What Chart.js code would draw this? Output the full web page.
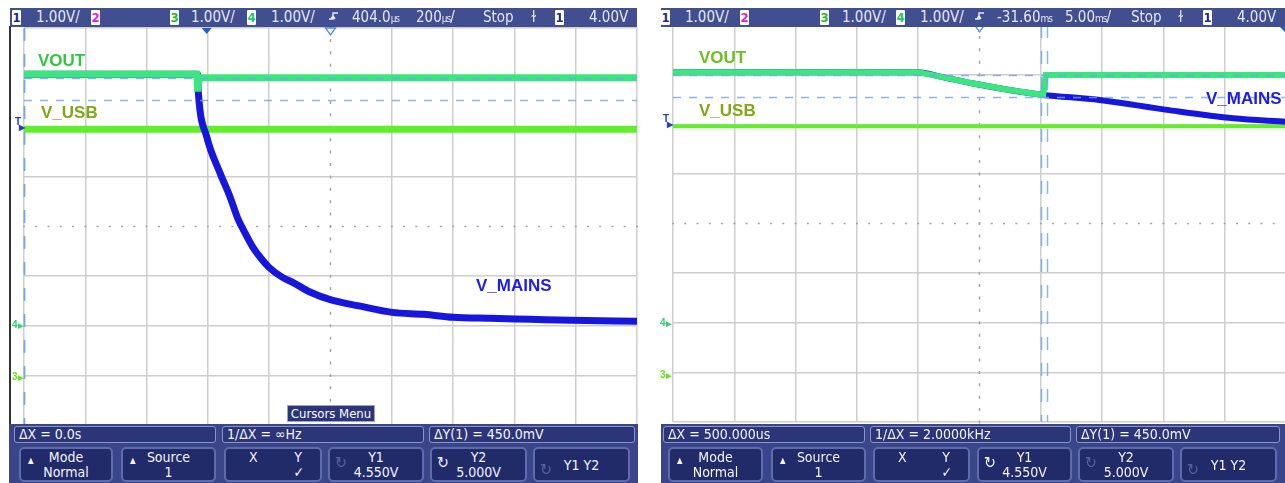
<!DOCTYPE html>
<html>
<head>
<meta charset="utf-8">
<script src="https://cdn.jsdelivr.net/npm/chart.js@4.4.1/dist/chart.umd.min.js"></script>
<style>
  html, body { margin: 0; padding: 0; background: #fff; }
  #page { position: relative; width: 1285px; height: 483px; overflow: hidden; background: #fff;
          font-family: "Liberation Sans Narrow", "DejaVu Sans Condensed", "Liberation Sans", sans-serif; }
  canvas { position: absolute; }
  .bar { position: absolute; top: 8px; height: 19px; background: #414e8f; }
  .ht { position: absolute; top: 8px; line-height: 19px; font-size: 15px; color: #e4e8f6; white-space: nowrap; }
  .ht small { font-size: 10px; letter-spacing: -1px; }
  .cb { position: absolute; top: 10px; width: 9px; height: 15px; line-height: 15px; background: #fff; font-size: 13px;
        font-weight: bold; text-align: center; border-radius: 1px; }
  .bbg { position: absolute; top: 424px; height: 59px; background: #3a4689; }
  .r1 { position: absolute; top: 426px; height: 17px; background: #2b3577; border: 1px solid #8a94c8; border-radius: 3px;
        box-sizing: border-box; color: #f2f4ff; font-size: 14px; line-height: 15px; padding-left: 4px; white-space: nowrap; }
  .btn { position: absolute; top: 447px; height: 35px; background: #222b6a; border: 2px solid #5f6cab; border-radius: 5px;
         box-sizing: border-box; color: #f2f4ff; font-size: 14px; line-height: 15px; text-align: center; padding-top: 1px; }
  .btn i { position: absolute; font-style: normal; }
  .up { left: 7px; top: 4px; font-size: 8px; }
  .rot { left: 5px; top: 6px; font-size: 16px; }
  .dim { color: #56619e; }
  .lbl { position: absolute; font-family: "Liberation Sans", Arial, sans-serif; font-weight: bold; font-size: 17px;
         line-height: 17px; white-space: nowrap; }
  .mk { position: absolute; font-family: "Liberation Sans", sans-serif; font-weight: bold; font-size: 10px; line-height: 10px; }
</style>
</head>
<body>
<div id="page">
  <!-- left capture: 200us/div -->
  <div style="position:absolute;left:9px;top:26px;width:2px;height:399px;background:#333"></div>
  <canvas id="scopeLeft" width="617" height="401" style="left:22px;top:26px"></canvas>

  <div class="bar" style="left:10px;width:627px"></div>
  <span class="cb" style="left:12px;color:#1c2a8a">1</span>
  <span class="ht" style="left:36px">1.00V/</span>
  <span class="cb" style="left:91px;color:#e020d8">2</span>
  <span class="cb" style="left:170px;color:#22c022">3</span>
  <span class="ht" style="left:191px">1.00V/</span>
  <span class="cb" style="left:247px;color:#20c868">4</span>
  <span class="ht" style="left:271px">1.00V/</span>
  <svg style="position:absolute;left:328px;top:10px" width="12" height="15"><path d="M1 9 H5 V3 H10 M5 6 L3 9 M5 6 L7 9" stroke="#e4e8f6" stroke-width="1.5" fill="none"/></svg>
  <span class="ht" style="left:352px">404.0<small>µs</small></span>
  <span class="ht" style="left:416px">200<small>µs</small>/</span>
  <span class="ht" style="left:483px">Stop</span>
  <span class="ht" style="left:531px">ɫ</span>
  <span class="cb" style="left:555px;color:#1c2a8a">1</span>
  <span class="ht" style="left:589px">4.00V</span>

  <div class="lbl" style="left:38px;top:52px;color:#2ec83e">VOUT</div>
  <div class="lbl" style="left:41px;top:104px;color:#7fa814">V_USB</div>
  <div class="lbl" style="left:476px;top:277px;color:#1c1cf0">V_MAINS</div>

  <span class="mk" style="left:15px;top:117px;color:#2040d0">T</span>
  <span class="mk" style="left:19px;top:123px;color:#2040d0;font-size:8px">▶</span>
  <span class="mk" style="left:12px;top:320px;color:#30d070">4<span style="font-size:7px">▶</span></span>
  <span class="mk" style="left:12px;top:372px;color:#66e022">3<span style="font-size:7px">▶</span></span>

  <div style="position:absolute;left:287px;top:405px;width:88px;height:17px;box-sizing:border-box;background:#2b3577;border:1px solid #9aa3d6;color:#fff;font-size:13px;line-height:15px;text-align:center">Cursors Menu</div>

  <div class="bbg" style="left:9px;width:629px"></div>
  <div class="r1" style="left:14px;width:202px">ΔX = 0.0s</div>
  <div class="r1" style="left:222px;width:202px">1/ΔX = ∞Hz</div>
  <div class="r1" style="left:429px;width:206px">ΔY(1) = 450.0mV</div>
  <div class="btn" style="left:19px;width:94px"><i class="up">▲</i>Mode<br>Normal</div>
  <div class="btn" style="left:121px;width:95px"><i class="up">▲</i>Source<br>1</div>
  <div class="btn" style="left:224px;width:98px"><i style="left:23px;top:1px">X</i><i style="right:18px;top:1px">Y</i><i style="right:16px;top:16px">✓</i></div>
  <div class="btn" style="left:328px;width:96px"><i class="rot dim">↻</i>Y1<br>4.550V</div>
  <div class="btn" style="left:430px;width:97px"><i class="rot">↻</i>Y2<br>5.000V</div>
  <div class="btn" style="left:533px;width:97px;line-height:30px"><i class="rot dim">↻</i>Y1 Y2</div>

  <!-- right capture: 5ms/div -->
  <canvas id="scopeRight" width="617" height="401" style="left:671px;top:23px"></canvas>

  <div class="bar" style="left:661px;width:624px"></div>
  <span class="cb" style="left:661px;color:#1c2a8a">1</span>
  <span class="ht" style="left:685px">1.00V/</span>
  <span class="cb" style="left:740px;color:#e020d8">2</span>
  <span class="cb" style="left:820px;color:#22c022">3</span>
  <span class="ht" style="left:842px">1.00V/</span>
  <span class="cb" style="left:896px;color:#20c868">4</span>
  <span class="ht" style="left:920px">1.00V/</span>
  <svg style="position:absolute;left:974px;top:10px" width="12" height="15"><path d="M1 9 H5 V3 H10 M5 6 L3 9 M5 6 L7 9" stroke="#e4e8f6" stroke-width="1.5" fill="none"/></svg>
  <span class="ht" style="left:997px">-31.60<small>ms</small></span>
  <span class="ht" style="left:1065px">5.00<small>ms</small>/</span>
  <span class="ht" style="left:1131px">Stop</span>
  <span class="ht" style="left:1178px">ɫ</span>
  <span class="cb" style="left:1203px;color:#1c2a8a">1</span>
  <span class="ht" style="left:1237px">4.00V</span>

  <div class="lbl" style="left:699px;top:49px;color:#6cc020">VOUT</div>
  <div class="lbl" style="left:699px;top:102px;color:#7fa814">V_USB</div>
  <div class="lbl" style="left:1206px;top:90px;color:#1c1cf0">V_MAINS</div>

  <span class="mk" style="left:663px;top:114px;color:#2040d0">T</span>
  <span class="mk" style="left:667px;top:120px;color:#2040d0;font-size:8px">▶</span>
  <span class="mk" style="left:660px;top:318px;color:#30d070">4<span style="font-size:7px">▶</span></span>
  <span class="mk" style="left:660px;top:370px;color:#66e022">3<span style="font-size:7px">▶</span></span>

  <div class="bbg" style="left:661px;width:624px"></div>
  <div class="r1" style="left:663px;width:202px">ΔX = 500.000us</div>
  <div class="r1" style="left:870px;width:201px">1/ΔX = 2.0000kHz</div>
  <div class="r1" style="left:1076px;width:204px">ΔY(1) = 450.0mV</div>
  <div class="btn" style="left:668px;width:95px"><i class="up">▲</i>Mode<br>Normal</div>
  <div class="btn" style="left:771px;width:95px"><i class="up">▲</i>Source<br>1</div>
  <div class="btn" style="left:873px;width:97px"><i style="left:23px;top:1px">X</i><i style="right:18px;top:1px">Y</i><i style="right:16px;top:16px">✓</i></div>
  <div class="btn" style="left:977px;width:95px"><i class="rot">↻</i>Y1<br>4.550V</div>
  <div class="btn" style="left:1078px;width:96px"><i class="rot dim">↻</i>Y2<br>5.000V</div>
  <div class="btn" style="left:1180px;width:97px;line-height:30px"><i class="rot dim">↻</i>Y1 Y2</div>
</div>

<script>
// Left capture, time in us, voltages in V (ch1 scale, 1 V/div)
const leftRange = [-596, 1404];
const leftVoutT = [-596, -32, -29, -25, 1404];
const leftVoutV = [5.07, 5.07, 4.72, 5.0, 5.0];
const leftMainsT = [-596, -30, -27, 0, 44, 76, 101, 125, 151, 177, 203, 246, 285, 337, 406, 497, 605, 709, 804, 924, 1058, 1189, 1404];
const leftMainsV = [5.07, 5.07, 4.68, 3.81, 3.07, 2.60, 2.17, 1.87, 1.58, 1.36, 1.18, 0.98, 0.86, 0.68, 0.52, 0.40, 0.27, 0.23, 0.17, 0.15, 0.13, 0.11, 0.09];
const leftUsbT = [-596, 1404];
const leftUsbV = [3.96, 3.96];
const leftCursorX = [-596, -596];
const leftCursorY = [4.55, 5.0];

// Right capture, time in ms
const rightRange = [-56.6, -6.6];
const rightVoutT = [-56.6, -36.6, -34.8, -32.1, -29.4, -26.7, -26.4, -26.2, -6.6];
const rightVoutV = [5.05, 5.05, 4.96, 4.82, 4.70, 4.60, 4.59, 4.99, 4.99];
const rightMainsT = [-56.6, -36.6, -34.8, -32.1, -29.4, -26.7, -26.4, -21.8, -16.3, -10.9, -6.6];
const rightMainsV = [5.05, 5.05, 4.96, 4.82, 4.70, 4.60, 4.59, 4.49, 4.29, 4.12, 4.05];
const rightUsbT = [-56.6, -6.6];
const rightUsbV = [3.96, 3.96];
const rightCursorX = [-26.6, -26.1];
const rightCursorY = [4.55, 5.0];

const voltRange = [-2, 6];

function pts(t, v) {
    return t.map((x, i) => ({ x: x, y: v[i] }));
}

// scope graticule: even divisions regardless of where the range starts
function divisions(n) {
    return s => {
        s.ticks = [];
        for (let i = 0; i <= n; i++) s.ticks.push({ value: s.min + (s.max - s.min) * i / n });
    };
}

// centre axes (dotted) + cursors + top markers
const scopePlugin = {
    id: 'scope',
    beforeDatasetsDraw(chart) {
        const { ctx, chartArea: a } = chart;
        const cx = (a.left + a.right) / 2, cy = (a.top + a.bottom) / 2;
        const w = a.right - a.left, h = a.bottom - a.top;
        ctx.save();
        ctx.strokeStyle = '#a4a4a4';
        ctx.lineWidth = 1.5;
        ctx.beginPath();
        for (let i = 0; i <= 50; i++) {
            const px = a.left + w * i / 50;
            ctx.moveTo(px - 1, cy); ctx.lineTo(px + 1, cy);
        }
        for (let i = 0; i <= 32; i++) {
            const py = a.top + h * i / 32;
            ctx.moveTo(cx, py - 1.5); ctx.lineTo(cx, py + 1.5);
        }
        ctx.stroke();
        ctx.restore();
    },
    afterDatasetsDraw(chart, args, opts) {
        const { ctx, chartArea: a, scales: { x, y } } = chart;
        ctx.save();
        ctx.strokeStyle = 'rgba(110,165,235,0.8)';
        ctx.lineWidth = 1.5;
        ctx.setLineDash([8, 8]);
        opts.cursorY.forEach(v => {
            const py = Math.round(y.getPixelForValue(v)) + 0.5;
            ctx.beginPath(); ctx.moveTo(a.left, py); ctx.lineTo(a.right, py); ctx.stroke();
        });
        ctx.setLineDash([13, 13]);
        opts.cursorX.forEach(v => {
            const px = Math.round(x.getPixelForValue(v)) + 0.5;
            ctx.beginPath(); ctx.moveTo(px, a.top); ctx.lineTo(px, a.bottom); ctx.stroke();
        });
        ctx.setLineDash([]);

        // trigger point marker
        ctx.fillStyle = '#1f5fd6';
        ctx.beginPath();
        if (opts.trigger <= x.max) {
            const tx = x.getPixelForValue(opts.trigger);
            ctx.moveTo(tx - 5, a.top); ctx.lineTo(tx + 5, a.top); ctx.lineTo(tx, a.top + 6);
        } else {
            ctx.moveTo(a.right - 8, a.top); ctx.lineTo(a.right, a.top); ctx.lineTo(a.right, a.top + 8);
        }
        ctx.fill();

        // delay reference (screen centre)
        const dx = x.getPixelForValue((x.min + x.max) / 2);
        ctx.fillStyle = '#fff';
        ctx.strokeStyle = '#4a88e6';
        ctx.lineWidth = 1.3;
        ctx.beginPath();
        ctx.moveTo(dx - 5, a.top); ctx.lineTo(dx + 5, a.top); ctx.lineTo(dx, a.top + 7); ctx.closePath();
        ctx.fill(); ctx.stroke();
        ctx.restore();
    }
};

function gridColor(center) {
    return c => {
        if (c.index === center) return 'rgba(0,0,0,0)';
        return '#cecece';
    };
}

function makeScope(canvasId, cfg) {
    const ctx = document.getElementById(canvasId).getContext('2d');
    return new Chart(ctx, {
        type: 'line',
        data: {
            datasets: [{
                label: 'VOUT',
                data: cfg.vout,
                borderColor: '#3ae67e',
                borderWidth: cfg.voutWidth,
                pointRadius: 0,
                tension: 0
            }, {
                label: 'V_MAINS',
                data: cfg.mains,
                borderColor: '#1616dc',
                borderWidth: cfg.mainsWidth,
                pointRadius: 0,
                cubicInterpolationMode: 'monotone'
            }, {
                label: 'V_USB',
                data: cfg.usb,
                borderColor: '#62ee2a',
                borderWidth: cfg.usbWidth,
                pointRadius: 0
            }]
        },
        options: {
            responsive: false,
            animation: false,
            layout: { padding: 2 },
            plugins: {
                legend: { display: false },
                tooltip: { enabled: false },
                scope: { cursorX: cfg.cursorX, cursorY: cfg.cursorY, trigger: 0 }
            },
            scales: {
                x: {
                    type: 'linear',
                    min: cfg.range[0],
                    max: cfg.range[1],
                    afterBuildTicks: divisions(10),
                    ticks: { display: false },
                    border: { display: false },
                    grid: { drawTicks: false, lineWidth: 1.5, color: gridColor(5) }
                },
                y: {
                    type: 'linear',
                    min: voltRange[0],
                    max: voltRange[1],
                    afterBuildTicks: divisions(8),
                    ticks: { display: false },
                    border: { display: false },
                    grid: { drawTicks: false, lineWidth: 1.5, color: gridColor(4) }
                }
            }
        },
        plugins: [scopePlugin]
    });
}

makeScope('scopeLeft', {
    range: leftRange,
    vout: pts(leftVoutT, leftVoutV),
    mains: pts(leftMainsT, leftMainsV),
    usb: pts(leftUsbT, leftUsbV),
    cursorX: leftCursorX,
    cursorY: leftCursorY,
    voutWidth: 7, mainsWidth: 7, usbWidth: 7
});

makeScope('scopeRight', {
    range: rightRange,
    vout: pts(rightVoutT, rightVoutV),
    mains: pts(rightMainsT, rightMainsV),
    usb: pts(rightUsbT, rightUsbV),
    cursorX: rightCursorX,
    cursorY: rightCursorY,
    voutWidth: 6, mainsWidth: 6, usbWidth: 4
});
</script>
</body>
</html>
